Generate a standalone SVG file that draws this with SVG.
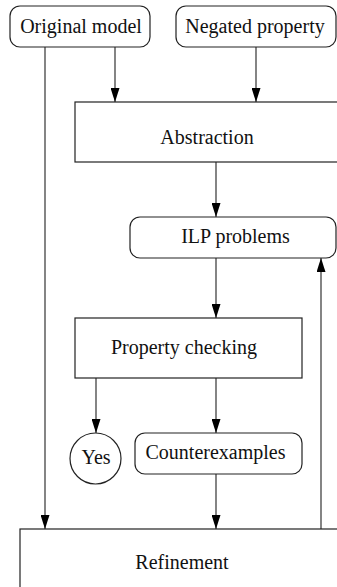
<svg xmlns="http://www.w3.org/2000/svg" width="337" height="587" viewBox="0 0 337 587">
<style>
.box{fill:#fff;stroke:#222;stroke-width:1.2}
.t{font-family:"Liberation Serif","Times New Roman",serif;font-size:20px;fill:#111;text-anchor:middle}
.c{stroke:#333;stroke-width:1.2;fill:none}
</style>
<defs>
<marker id="ah" markerUnits="userSpaceOnUse" markerWidth="14" markerHeight="9" refX="14" refY="4.5" orient="auto">
<path d="M0,0 L14,4.5 L0,9 z" fill="#000"/>
</marker>
</defs>
<rect width="337" height="587" fill="#fff"/>
<g id="connectors">
<line class="c" x1="115" y1="47" x2="115" y2="102" marker-end="url(#ah)"/>
<line class="c" x1="256" y1="47" x2="256" y2="102" marker-end="url(#ah)"/>
<line class="c" x1="45" y1="47" x2="45" y2="529" marker-end="url(#ah)"/>
<line class="c" x1="216" y1="162" x2="216" y2="217" marker-end="url(#ah)"/>
<line class="c" x1="216" y1="258" x2="216" y2="318" marker-end="url(#ah)"/>
<line class="c" x1="96" y1="378" x2="96" y2="433" marker-end="url(#ah)"/>
<line class="c" x1="216" y1="378" x2="216" y2="433" marker-end="url(#ah)"/>
<line class="c" x1="216" y1="474" x2="216" y2="529" marker-end="url(#ah)"/>
<line class="c" x1="321" y1="529" x2="321" y2="258" marker-end="url(#ah)"/>
</g>
<g id="original-model">
<rect class="box" x="10" y="6" width="140" height="41" rx="10"/>
<text class="t" x="81" y="32.5">Original model</text>
</g>
<g id="negated-property">
<rect class="box" x="176" y="6" width="160" height="41" rx="10"/>
<text class="t" x="255" y="32.5">Negated property</text>
</g>
<g id="abstraction">
<rect class="box" x="75" y="102" width="270" height="60"/>
<text class="t" x="207" y="143.5">Abstraction</text>
</g>
<g id="ilp-problems">
<rect class="box" x="130" y="217" width="206" height="41" rx="10"/>
<text class="t" x="235.5" y="243">ILP problems</text>
</g>
<g id="property-checking">
<rect class="box" x="75" y="318" width="227" height="60"/>
<text class="t" x="184" y="353.5">Property checking</text>
</g>
<g id="yes">
<circle class="box" cx="95.5" cy="458.5" r="25.5"/>
<text class="t" x="96" y="463.5">Yes</text>
</g>
<g id="counterexamples">
<rect class="box" x="135" y="433" width="167" height="41" rx="10"/>
<text class="t" x="215.5" y="458.5">Counterexamples</text>
</g>
<g id="refinement">
<rect class="box" x="20" y="529" width="330" height="70"/>
<text class="t" x="182" y="569">Refinement</text>
</g>
</svg>
